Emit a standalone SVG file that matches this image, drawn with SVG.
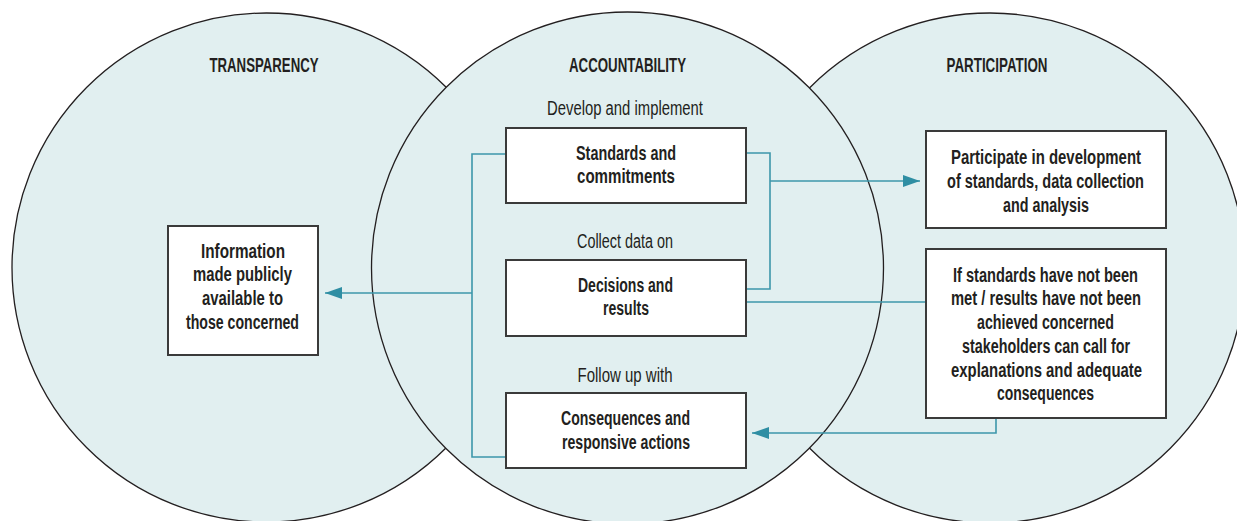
<svg xmlns="http://www.w3.org/2000/svg" width="1237" height="521" viewBox="0 0 1237 521">
<defs>
<style>
.circ{fill:#e1eff0;stroke:#231f20;stroke-width:1.3}
.box{fill:#ffffff;stroke:#3a3a3a;stroke-width:2}
.t{font-family:"Liberation Sans",Arial,sans-serif;font-size:20px;font-weight:bold;fill:#231f20;text-anchor:middle}
.r{font-family:"Liberation Sans",Arial,sans-serif;font-size:20px;font-weight:normal;fill:#231f20;text-anchor:middle}
.con{fill:none;stroke:#3d97ab;stroke-width:1.6}
</style>
<marker id="ah" viewBox="0 0 17 12" refX="17" refY="6" markerWidth="17" markerHeight="12" markerUnits="userSpaceOnUse" orient="auto">
<path d="M0,0 L17,6 L0,12 Z" fill="#2f8ea3"/>
</marker>
</defs>
<rect width="1237" height="521" fill="#ffffff"/>
<g id="circle-transparency"><circle class="circ" cx="266.5" cy="267.5" r="254.5"/></g>
<g id="circle-participation"><circle class="circ" cx="990" cy="268" r="255"/></g>
<g id="circle-accountability"><circle class="circ" cx="627.5" cy="268" r="256"/></g>
<g id="titles">
<text class="t" x="264" y="72" textLength="109" lengthAdjust="spacingAndGlyphs">TRANSPARENCY</text>
<text class="t" x="627.5" y="72" textLength="117" lengthAdjust="spacingAndGlyphs">ACCOUNTABILITY</text>
<text class="t" x="997" y="72" textLength="101" lengthAdjust="spacingAndGlyphs">PARTICIPATION</text>
</g>
<g id="connectors">
<path class="con" d="M506,154 H472 V457 H506"/>
<path class="con" d="M472,293 H325" marker-end="url(#ah)"/>
<path class="con" d="M746,153 H770 V289 H746"/>
<path class="con" d="M770,181 H920" marker-end="url(#ah)"/>
<path class="con" d="M746,302 H926"/>
<path class="con" d="M996,418 V433 H752" marker-end="url(#ah)"/>
</g>
<g id="labels">
<text class="r" x="625" y="115" textLength="156" lengthAdjust="spacingAndGlyphs">Develop and implement</text>
<text class="r" x="625" y="248" textLength="96" lengthAdjust="spacingAndGlyphs">Collect data on</text>
<text class="r" x="625" y="382" textLength="95" lengthAdjust="spacingAndGlyphs">Follow up with</text>
</g>
<g id="node-standards">
<rect class="box" x="506" y="128" width="240" height="75"/>
<text class="t" x="626" y="160" textLength="100" lengthAdjust="spacingAndGlyphs">Standards and</text>
<text class="t" x="626" y="183" textLength="98" lengthAdjust="spacingAndGlyphs">commitments</text>
</g>
<g id="node-decisions">
<rect class="box" x="506" y="260" width="240" height="76"/>
<text class="t" x="625.5" y="292" textLength="95" lengthAdjust="spacingAndGlyphs">Decisions and</text>
<text class="t" x="626" y="315" textLength="46" lengthAdjust="spacingAndGlyphs">results</text>
</g>
<g id="node-consequences">
<rect class="box" x="506" y="393" width="240" height="75"/>
<text class="t" x="625.5" y="425" textLength="129" lengthAdjust="spacingAndGlyphs">Consequences and</text>
<text class="t" x="626" y="449" textLength="128" lengthAdjust="spacingAndGlyphs">responsive actions</text>
</g>
<g id="node-information">
<rect class="box" x="168" y="226" width="150" height="129"/>
<text class="t" x="243" y="258" textLength="84" lengthAdjust="spacingAndGlyphs">Information</text>
<text class="t" x="242.5" y="281" textLength="99" lengthAdjust="spacingAndGlyphs">made publicly</text>
<text class="t" x="242.5" y="305" textLength="81" lengthAdjust="spacingAndGlyphs">available to</text>
<text class="t" x="242.5" y="329" textLength="113" lengthAdjust="spacingAndGlyphs">those concerned</text>
</g>
<g id="node-participate">
<rect class="box" x="926" y="131" width="240" height="97"/>
<text class="t" x="1046" y="164" textLength="190" lengthAdjust="spacingAndGlyphs">Participate in development</text>
<text class="t" x="1045.5" y="188" textLength="197" lengthAdjust="spacingAndGlyphs">of standards, data collection</text>
<text class="t" x="1046" y="212" textLength="86" lengthAdjust="spacingAndGlyphs">and analysis</text>
</g>
<g id="node-ifstandards">
<rect class="box" x="926" y="249" width="240" height="169"/>
<text class="t" x="1045.5" y="282" textLength="185" lengthAdjust="spacingAndGlyphs">If standards have not been</text>
<text class="t" x="1046" y="305" textLength="190" lengthAdjust="spacingAndGlyphs">met / results have not been</text>
<text class="t" x="1045.5" y="329" textLength="137" lengthAdjust="spacingAndGlyphs">achieved concerned</text>
<text class="t" x="1046" y="353" textLength="168" lengthAdjust="spacingAndGlyphs">stakeholders can call for</text>
<text class="t" x="1046.5" y="377" textLength="191" lengthAdjust="spacingAndGlyphs">explanations and adequate</text>
<text class="t" x="1045.5" y="400" textLength="97" lengthAdjust="spacingAndGlyphs">consequences</text>
</g>
</svg>
